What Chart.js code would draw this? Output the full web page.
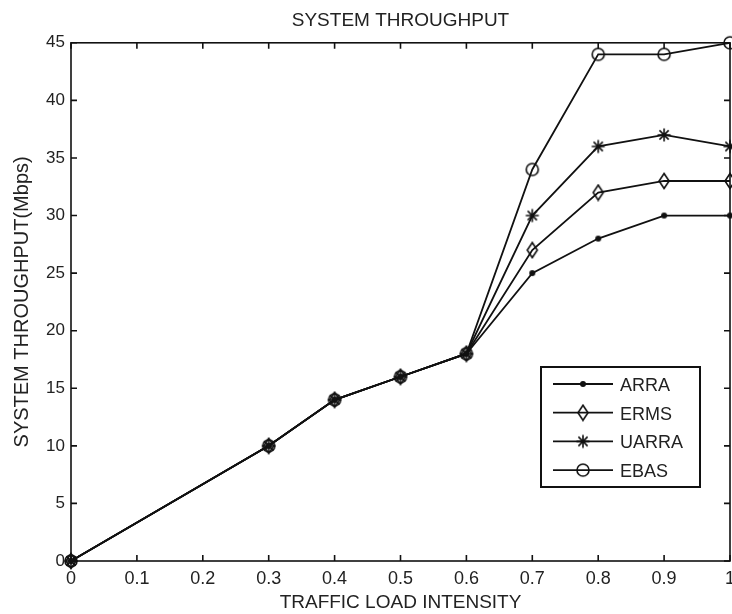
<!DOCTYPE html>
<html>
<head>
<meta charset="utf-8">
<script src="https://cdn.jsdelivr.net/npm/chart.js@4.4.1/dist/chart.umd.min.js"></script>
<style>
  html, body { margin: 0; padding: 0; background: #fff; overflow: hidden; }
  #wrap { width: 745px; height: 614px; }
</style>
</head>
<body>
<div id="wrap"><canvas id="myChart" width="745" height="614"></canvas></div>
<script>
// data
var loads = [0, 0.3, 0.4, 0.5, 0.6, 0.7, 0.8, 0.9, 1];
var arra  = [0, 10, 14, 16, 18, 25, 28, 30, 30];
var erms  = [0, 10, 14, 16, 18, 27, 32, 33, 33];
var uarra = [0, 10, 14, 16, 18, 30, 36, 37, 36];
var ebas  = [0, 10, 14, 16, 18, 34, 44, 44, 45];
var seriesNames = ['ARRA', 'ERMS', 'UARRA', 'EBAS'];
var xTickLabels = ['0', '0.1', '0.2', '0.3', '0.4', '0.5', '0.6', '0.7', '0.8', '0.9', '1'];
var yTickLabels = ['0', '5', '10', '15', '20', '25', '30', '35', '40', '45'];

var INK = '#111';
var FONT = "'Liberation Sans', Arial, sans-serif";

// matlab style markers: '.', 'd', '*', 'o'
function markerCanvas(kind) {
    var c = document.createElement('canvas');
    c.width = 18; c.height = 18;
    var g = c.getContext('2d');
    var m = 9;
    g.strokeStyle = INK; g.fillStyle = INK; g.lineWidth = 1.6;
    g.beginPath();
    if (kind === 'dot') {
        g.arc(m, m, 3, 0, Math.PI * 2);
        g.fill();
    } else if (kind === 'diamond') {
        g.moveTo(m, m - 7.5); g.lineTo(m + 5, m); g.lineTo(m, m + 7.5); g.lineTo(m - 5, m);
        g.closePath(); g.stroke();
    } else if (kind === 'star') {
        for (var k = 0; k < 4; k++) {
            var ang = k * Math.PI / 4, r = 6.5;
            g.moveTo(m - r * Math.cos(ang), m - r * Math.sin(ang));
            g.lineTo(m + r * Math.cos(ang), m + r * Math.sin(ang));
        }
        g.stroke();
    } else {
        g.arc(m, m, 6, 0, Math.PI * 2);
        g.stroke();
    }
    return c;
}
var markers = [markerCanvas('dot'), markerCanvas('diamond'), markerCanvas('star'), markerCanvas('circle')];

function toPoints(values) {
    return values.map(function(v, i) { return {x: loads[i], y: v}; });
}

var allSeries = [arra, erms, uarra, ebas];
var datasets = allSeries.map(function(values, i) {
    return {
        label: seriesNames[i],
        data: toPoints(values),
        borderColor: INK,
        backgroundColor: INK,
        borderWidth: 1.8,
        pointStyle: markers[i],
        pointRadius: 6,
        tension: 0,
        fill: false,
        clip: false
    };
});

// box around the plot with inward ticks on all four sides
var framePlugin = {
    id: 'frame',
    beforeDatasetsDraw: function(chart) {
        var ctx = chart.ctx, a = chart.chartArea;
        var xs = chart.scales.x, ys = chart.scales.y;
        var len = 6;
        ctx.save();
        ctx.strokeStyle = INK;
        ctx.lineWidth = 1.6;
        ctx.strokeRect(a.left, a.top, a.right - a.left, a.bottom - a.top);
        ctx.beginPath();
        xs.ticks.forEach(function(t) {
            var px = xs.getPixelForValue(t.value);
            ctx.moveTo(px, a.bottom); ctx.lineTo(px, a.bottom - len);
            ctx.moveTo(px, a.top); ctx.lineTo(px, a.top + len);
        });
        ys.ticks.forEach(function(t) {
            var py = ys.getPixelForValue(t.value);
            ctx.moveTo(a.left, py); ctx.lineTo(a.left + len, py);
            ctx.moveTo(a.right, py); ctx.lineTo(a.right - len, py);
        });
        ctx.stroke();
        ctx.restore();
    }
};

// legend box inside the plot, line + marker like matlab
var legendPlugin = {
    id: 'boxLegend',
    afterDraw: function(chart) {
        var ctx = chart.ctx, a = chart.chartArea;
        var bx = a.right - 189, by = a.bottom - 194, bw = 159, bh = 120;
        ctx.save();
        ctx.fillStyle = '#fff';
        ctx.fillRect(bx, by, bw, bh);
        ctx.strokeStyle = INK;
        ctx.lineWidth = 2;
        ctx.strokeRect(bx, by, bw, bh);
        ctx.font = '18px ' + FONT;
        ctx.textBaseline = 'middle';
        chart.data.datasets.forEach(function(ds, i) {
            var ly = by + 17 + i * 28.7;
            ctx.strokeStyle = INK;
            ctx.lineWidth = 1.8;
            ctx.beginPath();
            ctx.moveTo(bx + 12, ly); ctx.lineTo(bx + 72, ly);
            ctx.stroke();
            var img = ds.pointStyle;
            ctx.drawImage(img, bx + 42 - img.width / 2, ly - img.height / 2);
            ctx.fillStyle = '#222';
            ctx.fillText(ds.label, bx + 79, ly + 2);
        });
        ctx.restore();
    }
};

var ctx = document.getElementById('myChart').getContext('2d');
var myChart = new Chart(ctx, {
    type: 'line',
    data: { datasets: datasets },
    plugins: [framePlugin, legendPlugin],
    options: {
        responsive: false,
        animation: false,
        layout: { padding: { left: 0, right: 15, top: 0, bottom: 0 } },
        plugins: {
            legend: { display: false },
            tooltip: { enabled: false },
            title: {
                display: true,
                text: 'SYSTEM THROUGHPUT',
                fullSize: false,
                color: '#222',
                font: { family: FONT, size: 19, weight: 'normal' },
                padding: { top: 9, bottom: 11 }
            }
        },
        scales: {
            x: {
                type: 'linear',
                min: 0,
                max: 1,
                ticks: {
                    stepSize: 0.1,
                    autoSkip: false,
                    maxRotation: 0,
                    padding: 7,
                    color: '#222',
                    font: { family: FONT, size: 18 },
                    callback: function(v, i) { return xTickLabels[i]; }
                },
                grid: { display: false, drawTicks: false },
                border: { display: false },
                title: {
                    display: true,
                    text: 'TRAFFIC LOAD INTENSITY',
                    color: '#222',
                    font: { family: FONT, size: 19 },
                    padding: { top: 0, bottom: 0 }
                },
                afterFit: function(scale) { scale.height = 53; }
            },
            y: {
                min: 0,
                max: 45,
                ticks: {
                    stepSize: 5,
                    padding: 6,
                    color: '#222',
                    font: { family: FONT, size: 17 },
                    callback: function(v, i) { return yTickLabels[i]; }
                },
                grid: { display: false, drawTicks: false },
                border: { display: false },
                title: {
                    display: true,
                    text: 'SYSTEM THROUGHPUT(Mbps)',
                    color: '#222',
                    font: { family: FONT, size: 20 },
                    padding: { top: 10, bottom: 0 }
                },
                afterFit: function(scale) { scale.width = 71; }
            }
        }
    }
});
</script>
</body>
</html>
